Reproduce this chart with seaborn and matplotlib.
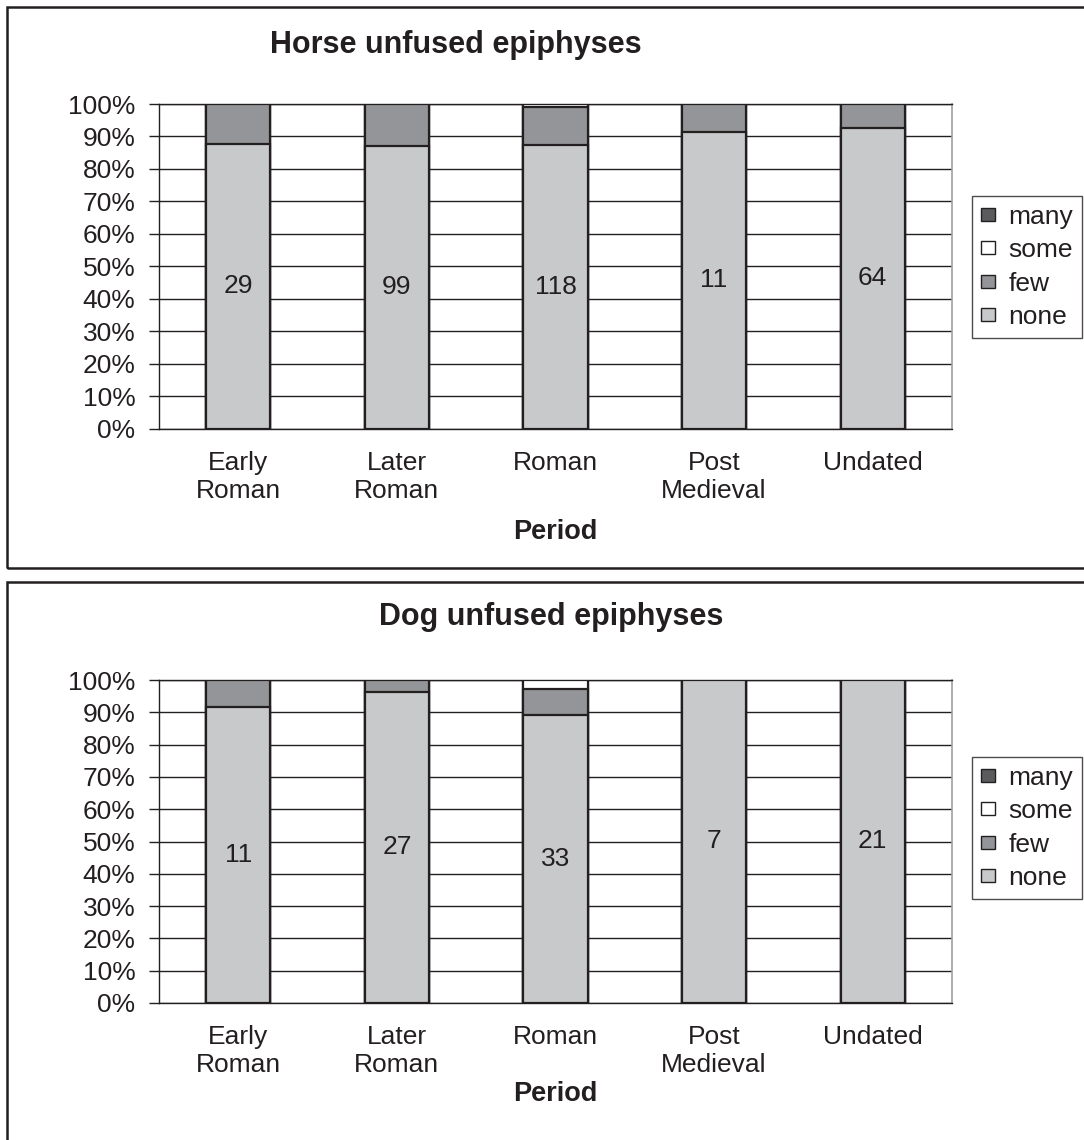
import numpy as np
import pandas as pd
import matplotlib
matplotlib.use("Agg")
import matplotlib.pyplot as plt
import seaborn as sns
from matplotlib.patches import Patch, Rectangle
from matplotlib.ticker import FixedLocator

# Data (percent of specimens in each fusion class)
periods = ["Early\nRoman", "Later\nRoman", "Roman", "Post\nMedieval", "Undated"]

horse_none = [87.7, 87.2, 87.3, 91.4, 92.7]
horse_few = [12.3, 12.8, 11.7, 8.6, 7.3]
horse_some = [0.0, 0.0, 1.0, 0.0, 0.0]
horse_many = [0.0, 0.0, 0.0, 0.0, 0.0]
horse_n = [29, 99, 118, 11, 64]

dog_none = [91.5, 96.3, 89.1, 100.0, 100.0]
dog_few = [8.5, 3.7, 8.1, 0.0, 0.0]
dog_some = [0.0, 0.0, 2.8, 0.0, 0.0]
dog_many = [0.0, 0.0, 0.0, 0.0, 0.0]
dog_n = [11, 27, 33, 7, 21]

classes = ["many", "some", "few", "none"]
colors = {"many": "#5a5b5d", "some": "#ffffff", "few": "#939598", "none": "#c8c9cb"}
edge = "#231f20"
fs = 19

sns.set_style("white")
plt.rcParams["font.family"] = ["Liberation Sans", "DejaVu Sans"]

W, H = 1084, 1140
fig = plt.figure(figsize=(W / 100, H / 100), dpi=100)


def fx(px):
    return px / W


def fy(py):
    return 1 - py / H


def draw_panel(ax, none, few, some, many, counts):
    df = pd.DataFrame({"period": periods, "none": none, "few": few,
                       "some": some, "many": many})
    df["few_c"] = df["none"] + df["few"]
    df["some_c"] = df["few_c"] + df["some"]
    df["many_c"] = df["some_c"] + df["many"]
    # stacked: draw cumulative heights from the top layer down
    for cls, col in [("many", "many_c"), ("some", "some_c"), ("few", "few_c"), ("none", "none")]:
        sns.barplot(data=df, x="period", y=col, color=colors[cls], saturation=1,
                    edgecolor=edge, linewidth=1.6, width=0.405, ax=ax, zorder=3)
    # counts in the middle of the 'none' segment
    bars = ax.containers[-1]
    ax.bar_label(bars, labels=[str(c) for c in counts], label_type="center",
                 fontsize=fs, color="#231f20")

    ax.set_xlim(-0.5, 4.5)
    ax.set_ylim(0, 100)
    ax.set_yticks(np.arange(0, 101, 10))
    ax.set_yticklabels([f"{v}%" for v in range(0, 101, 10)], fontsize=fs, color="#231f20")
    ax.set_xticklabels(periods, fontsize=fs, color="#231f20", linespacing=1.2)
    ax.tick_params(axis="x", which="major", length=0, pad=16)
    ax.xaxis.set_minor_locator(FixedLocator(np.arange(-0.5, 5, 1)))
    ax.tick_params(axis="x", which="minor", length=7, width=1, color="#231f20", direction="out")
    ax.tick_params(axis="y", length=7, width=1, color="#231f20", direction="out", pad=10, left=True)
    ax.yaxis.grid(True, color="#231f20", linewidth=1)
    ax.set_axisbelow(True)
    ax.set_xlabel("")
    ax.set_ylabel("")
    for s in ["left", "bottom", "top"]:
        ax.spines[s].set_color("#231f20")
        ax.spines[s].set_linewidth(1)
    ax.spines["right"].set_color("#a0a0a0")
    ax.spines["right"].set_linewidth(1.2)


# Top panel (horse)
ax1 = fig.add_axes([fx(159), fy(428.7), fx(952 - 159), (428.7 - 104) / H])
draw_panel(ax1, horse_none, horse_few, horse_some, horse_many, horse_n)

# Bottom panel (dog)
ax2 = fig.add_axes([fx(159), fy(1003), fx(952 - 159), (1003 - 680) / H])
draw_panel(ax2, dog_none, dog_few, dog_some, dog_many, dog_n)

# Panel borders
fig.patches.append(Rectangle((fx(7), fy(568)), 1.05, (568 - 7) / H, transform=fig.transFigure,
                             fill=False, edgecolor=edge, linewidth=1.8))
fig.patches.append(Rectangle((fx(7), fy(1200)), 1.05, (1200 - 582) / H, transform=fig.transFigure,
                             fill=False, edgecolor=edge, linewidth=1.8))

# Titles and axis labels
fig.text(fx(456), fy(45), "Horse unfused epiphyses", ha="center", va="center",
         fontsize=22, fontweight="bold", color="#231f20")
fig.text(fx(551), fy(617), "Dog unfused epiphyses", ha="center", va="center",
         fontsize=22, fontweight="bold", color="#231f20")
fig.text(fx(555), fy(532), "Period", ha="center", va="center",
         fontsize=fs + 0.5, fontweight="bold", color="#231f20")
fig.text(fx(555), fy(1094), "Period", ha="center", va="center",
         fontsize=fs + 0.5, fontweight="bold", color="#231f20")

# Legends
handles = [Patch(facecolor=colors[c], edgecolor=edge, linewidth=1) for c in classes]
for top in [196, 757]:
    leg = fig.legend(handles, classes, loc="upper left", bbox_to_anchor=(fx(972), fy(top)),
                     frameon=True, fancybox=False, fontsize=fs, handlelength=0.55,
                     handleheight=0.4, handletextpad=0.5, labelspacing=0.36,
                     borderpad=0.33, borderaxespad=0)
    leg.get_frame().set_edgecolor(edge)
    leg.get_frame().set_linewidth(1)
    for t in leg.get_texts():
        t.set_color("#231f20")

fig.savefig("out.png", dpi=100, facecolor="white")
